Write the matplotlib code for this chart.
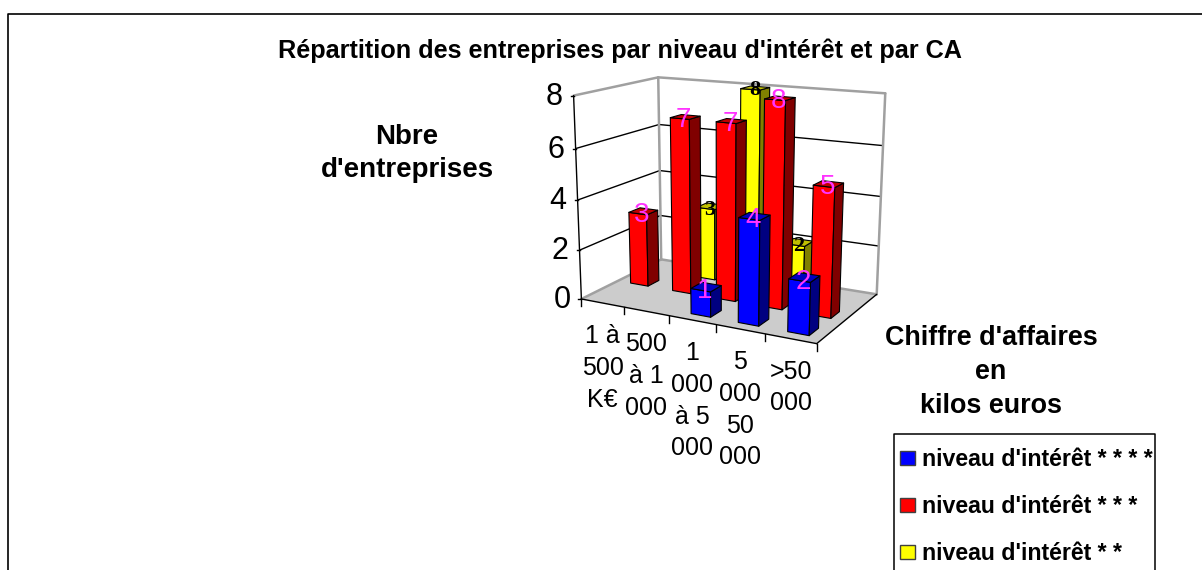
import numpy as np
import matplotlib
matplotlib.use("Agg")
import matplotlib.pyplot as plt

categories = ["1 à\n500\nK€", "500\nà 1\n000", "1\n000\nà 5\n000", "5\n000\n50\n000", ">50\n000"]
blue = [0, 0, 1, 4, 2]
red = [3, 7, 7, 8, 5]
yellow = [0, 3, 8, 2, 0]
series_names = ["niveau d'intérêt * * * *", "niveau d'intérêt * * *", "niveau d'intérêt * *"]
yticks = [0, 2, 4, 6, 8]

plt.rcParams['font.family'] = ['Liberation Sans', 'DejaVu Sans']

# colours: front, side, top
colours = {
    "blue": ("#0000ff", "#000080", "#0000c0"),
    "red": ("#ff0000", "#800000", "#c00000"),
    "yellow": ("#ffff00", "#808000", "#c0c000"),
}

# box corners (cat, row, value) -> pixel, used to fit the camera of the 3d box
n_cat = len(categories)
n_row = 3
zmax = 8
box_world = [(0, 0, 0), (n_cat, 0, 0), (n_cat, n_row, 0), (0, n_row, 0),
             (0, 0, zmax), (0, n_row, zmax), (n_cat, n_row, zmax)]
box_pixels = [(581.7, 298.3), (817, 344), (876.7, 294), (660.7, 260),
              (573, 96), (659, 77), (885, 93.3)]

A = []
b = []
for (X, Y, Z), (u, v) in zip(box_world, box_pixels):
    A.append([X, Y, Z, 1, 0, 0, 0, 0, -u * X, -u * Y, -u * Z])
    A.append([0, 0, 0, 0, X, Y, Z, 1, -v * X, -v * Y, -v * Z])
    b += [u, v]
cam = np.linalg.lstsq(np.array(A, float), np.array(b, float), rcond=None)[0]
cam = np.append(cam, 1).reshape(3, 4)


def proj(X, Y, Z):
    p = cam @ np.array([X, Y, Z, 1.0])
    return p[0] / p[2], p[1] / p[2]


fig = plt.figure(figsize=(12.02, 5.70), dpi=100)
ax = fig.add_axes([0, 0, 1, 1])
ax.set_xlim(0, 1202)
ax.set_ylim(570, 0)
ax.axis("off")

# outer frame, cut by the picture on the right and at the bottom
ax.plot([8, 8, 1210], [580, 14, 14], color="black", lw=1.2)


def face(pts, fc, ec="black", lw=0.8, z=2):
    ax.fill(*zip(*[proj(*p) for p in pts]), facecolor=fc, edgecolor=ec, lw=lw, zorder=z, joinstyle="round")


def seg(p, q, c="black", lw=1.0, z=1):
    a, b_ = proj(*p), proj(*q)
    ax.plot([a[0], b_[0]], [a[1], b_[1]], color=c, lw=lw, zorder=z, solid_capstyle="round")


# floor and walls
face([(0, 0, 0), (n_cat, 0, 0), (n_cat, n_row, 0), (0, n_row, 0)], "#cccccc", ec="none", z=1)
for t in yticks[1:-1]:
    seg((0, 0, t), (0, n_row, t))
    seg((0, n_row, t), (n_cat, n_row, t))
grey = "#a0a0a0"
seg((0, 0, zmax), (0, n_row, zmax), grey, 1.8)
seg((0, n_row, zmax), (n_cat, n_row, zmax), grey, 1.8)
seg((0, n_row, 0), (0, n_row, zmax), grey, 1.8)
seg((n_cat, n_row, 0), (n_cat, n_row, zmax), grey, 1.8)
seg((0, 0, 0), (0, n_row, 0), grey, 1.8)
seg((0, n_row, 0), (n_cat, n_row, 0), grey, 1.8)
seg((n_cat, 0, 0), (n_cat, n_row, 0), "black", 1.0)

# axes
seg((0, 0, 0), (0, 0, zmax), "black", 1.0, 3)
seg((0, 0, 0), (n_cat, 0, 0), "black", 1.0, 3)
for t in yticks:
    u, v = proj(0, 0, t)
    ax.plot([u - 3, u], [v, v], color="black", lw=1, zorder=3)
    ax.text(u - 11, v + 1, str(t), ha="right", va="center", fontsize=22, zorder=6)
for i in range(n_cat + 1):
    u, v = proj(i, 0, 0)
    ax.plot([u, u], [v, v + 7], color="black", lw=1, zorder=3)

# bars, back row first
bar_half = 0.21
z_order = 4


def bar(i, row, val, key, label_style):
    global z_order
    if val == 0:
        return
    front, side, top = colours[key]
    x0, x1 = i + 0.52 - bar_half, i + 0.52 + bar_half
    y0, y1 = row + 0.5 - bar_half, row + 0.5 + bar_half
    face([(x0, y0, 0), (x1, y0, 0), (x1, y0, val), (x0, y0, val)], front, z=z_order)
    face([(x1, y0, 0), (x1, y1, 0), (x1, y1, val), (x1, y0, val)], side, z=z_order)
    face([(x0, y0, val), (x1, y0, val), (x1, y1, val), (x0, y1, val)], top, z=z_order)
    u, v = proj((x0 + x1) / 2, y0, val)
    ax.text(u + 4, v + 1, str(val), ha="center", va="center", zorder=50, **label_style)
    z_order += 1


magenta = dict(color="#ff33ff", fontsize=20)
black_lab = dict(color="black", fontsize=16, fontweight="bold", family=["Liberation Serif"])
for i in range(n_cat):
    bar(i, 2, yellow[i], "yellow", black_lab)
for i in range(n_cat):
    bar(i, 1, red[i], "red", magenta)
for i in range(n_cat):
    bar(i, 0, blue[i], "blue", magenta)

# category labels
for i, lab in enumerate(categories):
    u, v = proj(i + 0.5, 0, 0)
    ax.text(u, v + 21, lab, ha="center", va="top", fontsize=18, linespacing=1.41)

# titles
ax.text(620.5, 51, "Répartition des entreprises par niveau d'intérêt et par CA", ha="center", va="center",
        fontsize=18.15, fontweight="bold")
ax.text(407, 153.5, "Nbre\nd'entreprises", ha="center", va="center", fontsize=20, fontweight="bold", linespacing=1.34)
ax.text(991, 372, "Chiffre d'affaires\nen\nkilos euros", ha="center", va="center", fontsize=19.4, fontweight="bold",
        linespacing=1.42)

# legend, cut by the bottom like the frame
ax.plot([894, 894, 1155, 1155], [580, 434, 434, 580], color="black", lw=1.1)
legend_keys = ["blue", "red", "yellow"]
for name, key, yy in zip(series_names, legend_keys, [458, 505, 552]):
    ax.fill([900, 915, 915, 900], [yy - 7, yy - 7, yy + 7, yy + 7], facecolor=colours[key][0], edgecolor="#404040", lw=1)
    ax.text(921.5, yy + 1.5, name, ha="left", va="center", fontsize=16.7, fontweight="bold")

fig.savefig("out.png", dpi=100)
